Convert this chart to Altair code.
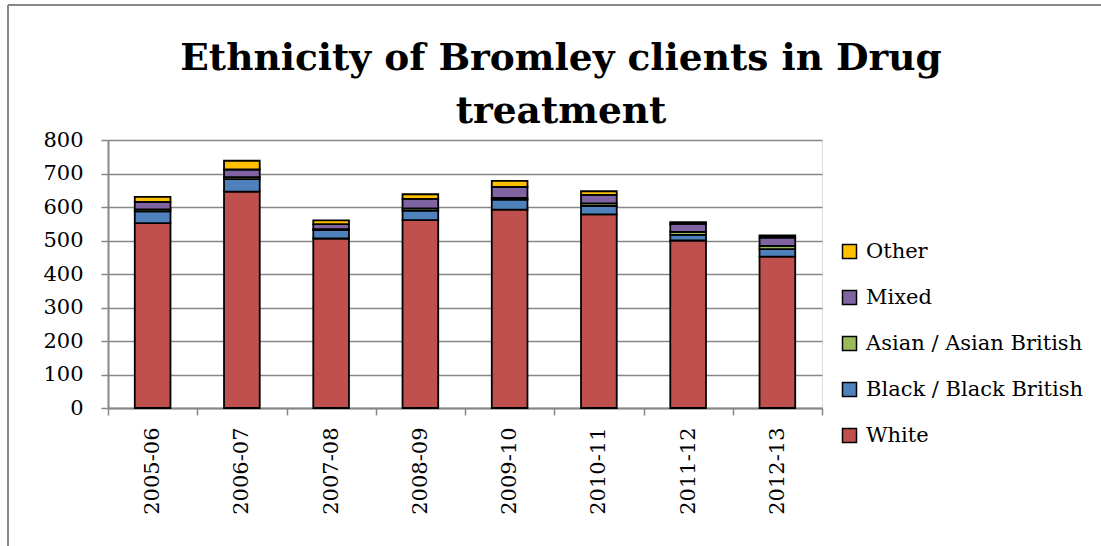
import altair as alt
import pandas as pd

years = ["2005-06", "2006-07", "2007-08", "2008-09", "2009-10", "2010-11", "2011-12", "2012-13"]
white = [552, 646, 506, 561, 592, 578, 500, 452]
black = [35, 37, 25, 28, 30, 25, 17, 22]
asian = [6, 6, 3, 7, 5, 8, 9, 10]
mixed = [22, 23, 15, 28, 33, 25, 24, 25]
other = [15, 26, 11, 14, 18, 11, 5, 6]

series_names = ["White", "Black / Black British", "Asian / Asian British", "Mixed", "Other"]
series_values = [white, black, asian, mixed, other]
series_colors = ["#C0504D", "#4F81BD", "#9BBB59", "#8064A2", "#FFC000"]

rows = []
for i, (name, vals) in enumerate(zip(series_names, series_values)):
    for y, v in zip(years, vals):
        rows.append({"Year": y, "Ethnicity": name, "Count": v, "Order": i})
df = pd.DataFrame(rows)

legend_order = list(reversed(series_names))
legend_colors = list(reversed(series_colors))

GRAY = "#878787"
FONT = "DejaVu Serif"

bars = alt.Chart(df).mark_bar(
    width=alt.RelativeBandSize(0.4), stroke="black", strokeWidth=1.8
).encode(
    x=alt.X("Year:N", sort=years, title=None,
            scale=alt.Scale(paddingInner=0, paddingOuter=0),
            axis=alt.Axis(labelAngle=-90, tickBand="extent", tickSize=7,
                          tickColor=GRAY, tickWidth=1.5, domainColor=GRAY,
                          domainWidth=2, labelPadding=12, labelFont=FONT,
                          labelFontSize=21, labelColor="black", grid=False)),
    y=alt.Y("Count:Q", stack="zero", title=None,
            scale=alt.Scale(domain=[0, 800]),
            axis=alt.Axis(values=[0, 100, 200, 300, 400, 500, 600, 700, 800],
                          tickSize=7, tickColor=GRAY, tickWidth=1.5,
                          domainColor=GRAY, domainWidth=2, gridColor=GRAY,
                          gridWidth=1.5, labelPadding=18, labelFont=FONT,
                          labelFontSize=21, labelColor="black")),
    color=alt.Color("Ethnicity:N",
                    scale=alt.Scale(domain=legend_order, range=legend_colors),
                    legend=alt.Legend(title=None, orient="none", legendX=731,
                                      legendY=101, padding=0,
                                      symbolType="square", symbolSize=196,
                                      symbolStrokeColor="black",
                                      symbolStrokeWidth=1.5, symbolOpacity=1,
                                      labelFont=FONT, labelFontSize=21,
                                      labelColor="black", labelOffset=6,
                                      rowPadding=24, labelLimit=400)),
    order=alt.Order("Order:Q", sort="ascending"),
)

frame_left = alt.Chart(df).mark_rule(color=GRAY, strokeWidth=1.5).encode(
    x=alt.value(-100), y=alt.value(-135), y2=alt.value(420))
frame_top = alt.Chart(df).mark_rule(color=GRAY, strokeWidth=1.5).encode(
    x=alt.value(-100), x2=alt.value(1000), y=alt.value(-135))

chart = alt.layer(frame_left, frame_top, bars).properties(
    width=714, height=268,
    autosize=alt.AutoSizeParams(type="none"),
    padding={"left": 108, "top": 140, "right": 279, "bottom": 138},
    title=alt.Title(["Ethnicity of Bromley clients in Drug", "treatment"],
                    font=FONT, fontSize=37.5, fontWeight="bold", color="black",
                    lineHeight=53, anchor="middle", frame="group", dx=96,
                    offset=18, dy=144),
).configure_view(stroke=None).configure(background="white")

chart.save("out.html", embed_options={"renderer": "svg", "actions": False})
